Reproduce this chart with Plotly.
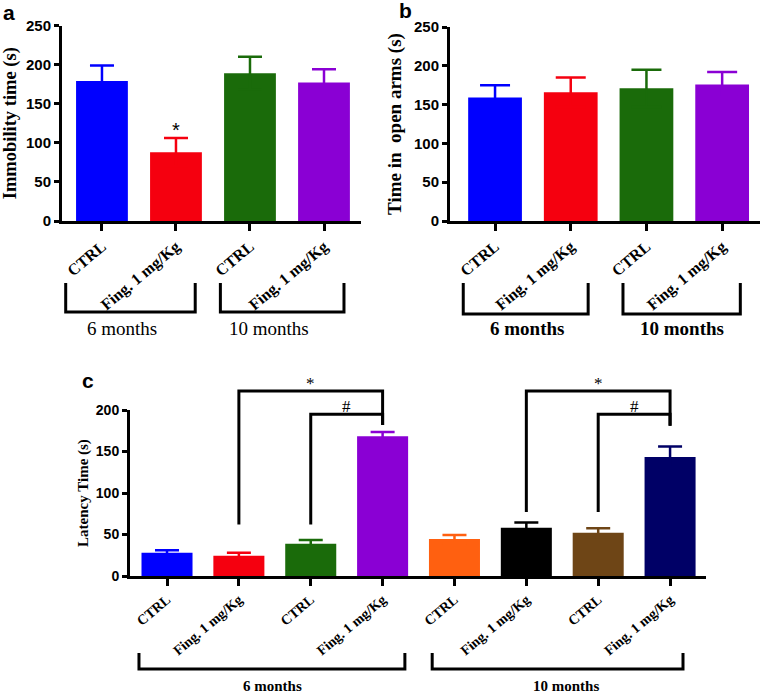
import plotly.graph_objects as go

W, H = 761, 695

# ---------------- data ----------------
a_labels = ["CTRL", "Fing. 1 mg/Kg", "CTRL", "Fing. 1 mg/Kg"]
a_values = [179, 88, 189, 177]
a_errors = [20, 18, 21, 17]
a_colors = ["#0000FF", "#F5000F", "#1A6B0A", "#8A00D4"]
a_groups = ["6 months", "10 months"]
a_sig = [(1, "*")]

b_labels = ["CTRL", "Fing. 1 mg/Kg", "CTRL", "Fing. 1 mg/Kg"]
b_values = [159, 166, 171, 176]
b_errors = [16, 19, 24, 16]
b_colors = ["#0000FF", "#F5000F", "#1A6B0A", "#8A00D4"]
b_groups = ["6 months", "10 months"]

c_labels = ["CTRL", "Fing. 1 mg/Kg", "CTRL", "Fing. 1 mg/Kg",
            "CTRL", "Fing. 1 mg/Kg", "CTRL", "Fing. 1 mg/Kg"]
c_values = [28, 24.5, 39, 168.5, 44.5, 58, 52, 143.5]
c_errors = [3, 3.5, 4.5, 5, 5, 6.5, 5.5, 12.5]
c_colors = ["#0000FF", "#F5000F", "#1A6B0A", "#8A00D4",
            "#FF6010", "#000000", "#6E4516", "#000066"]
c_groups = ["6 months", "10 months"]
# (left bar, right bar, bracket level, left leg bottom, right leg bottom, symbol)
c_comparisons = [(1, 3, 223, 62, 182, "*"), (2, 3, 195, 62, 182, "#"),
                 (5, 7, 223, 77, 181, "*"), (6, 7, 195, 77, 181, "#")]

SERIF = "Liberation Serif, Times New Roman, serif"
SANS = "Liberation Sans, Arial, sans-serif"


def py(p):
    """pixel row -> paper y"""
    return 1 - p / H


def px(p):
    return p / W


fig = go.Figure()


def add_bars(values, errors, colors, xa, ya, capw, bw):
    for i, (v, e, c) in enumerate(zip(values, errors, colors)):
        fig.add_trace(go.Bar(
            x=[i], y=[v], width=bw, marker=dict(color=c, line=dict(width=0)),
            error_y=dict(type="data", array=[e], symmetric=True,
                         color=c, thickness=2.5, width=capw),
            xaxis=xa, yaxis=ya, showlegend=False, hoverinfo="skip"))


add_bars(a_values, a_errors, a_colors, "x", "y", 12, 0.70)
add_bars(b_values, b_errors, b_colors, "x2", "y2", 15, 0.71)
add_bars(c_values, c_errors, c_colors, "x3", "y3", 12, 0.71)

# significance brackets for panel c on an invisible overlay axis (taller)
for (l, r, lvl, lb, rb, sym) in c_comparisons:
    fig.add_trace(go.Scatter(
        x=[l, l, r, r], y=[lb, lvl, lvl, rb], mode="lines",
        line=dict(color="black", width=3), xaxis="x4", yaxis="y4",
        showlegend=False, hoverinfo="skip"))

common_x = dict(showline=True, linewidth=3, linecolor="black", ticks="outside",
                ticklen=7, tickwidth=3, tickcolor="black", showgrid=False,
                zeroline=False, tickangle=-40, automargin=False)
common_y = dict(showline=True, linewidth=3, linecolor="black", ticks="outside",
                ticklen=5, tickwidth=3, tickcolor="black", showgrid=False,
                zeroline=False, automargin=False)

c_dom_lo, c_dom_hi = py(576), py(410)
c_top4 = 240
y4_hi = c_dom_lo + (c_dom_hi - c_dom_lo) * c_top4 / 200

fig.update_layout(
    template="none",
    width=W, height=H, margin=dict(l=0, r=0, t=0, b=0, autoexpand=False),
    paper_bgcolor="white", plot_bgcolor="rgba(0,0,0,0)", barmode="overlay",
    xaxis=dict(common_x, domain=[px(62), px(361)], range=[-0.54, 3.5],
               tickvals=list(range(len(a_labels))), ticktext=a_labels,
               tickfont=dict(family=SERIF, size=16, color="black", weight="bold"),
               anchor="y"),
    yaxis=dict(common_y, domain=[py(221), py(25.5)], range=[0, 250],
               tickvals=[0, 50, 100, 150, 200, 250],
               tickfont=dict(family=SANS, size=15, color="black", weight="bold"),
               title=dict(text="Immobility time (s)", standoff=8,
                          font=dict(family=SERIF, size=18.5, color="black", weight="bold")),
               anchor="x"),
    xaxis2=dict(common_x, domain=[px(450), px(760)], range=[-0.595, 3.5],
                tickvals=list(range(len(b_labels))), ticktext=b_labels,
                tickfont=dict(family=SERIF, size=16, color="black", weight="bold"),
                anchor="y2"),
    yaxis2=dict(common_y, domain=[py(221), py(27)], range=[0, 250],
                tickvals=[0, 50, 100, 150, 200, 250],
                tickfont=dict(family=SANS, size=15, color="black", weight="bold"),
                title=dict(text="Time in  open arms (s)", standoff=8,
                           font=dict(family=SERIF, size=19, color="black", weight="bold")),
                anchor="x2"),
    xaxis3=dict(common_x, domain=[px(130), px(706)], range=[-0.515, 7.5],
                tickvals=list(range(len(c_labels))), ticktext=c_labels,
                tickfont=dict(family=SERIF, size=14, color="black", weight="bold"),
                anchor="y3"),
    yaxis3=dict(common_y, domain=[c_dom_lo, c_dom_hi], range=[0, 200],
                tickvals=[0, 50, 100, 150, 200],
                tickfont=dict(family=SANS, size=14, color="black", weight="bold"),
                title=dict(text="Latency Time (s)", standoff=4,
                           font=dict(family=SERIF, size=15, color="black", weight="bold")),
                anchor="x3"),
    xaxis4=dict(domain=[px(130), px(706)], range=[-0.515, 7.5], visible=False,
                anchor="y4", fixedrange=True, automargin=False),
    yaxis4=dict(domain=[c_dom_lo, y4_hi], range=[0, c_top4], visible=False,
                anchor="x4", fixedrange=True, automargin=False),
)

annotations = []
shapes = []

# panel letters
for txt, x, y in [("a", 9, 13), ("b", 405, 10), ("c", 88, 380)]:
    annotations.append(dict(text=txt, x=px(x), y=py(y), xref="paper", yref="paper",
                            showarrow=False, xanchor="center", yanchor="middle",
                            font=dict(family=SANS, size=21, color="black", weight="bold")))

# significance marks in panel a
for idx, sym in a_sig:
    annotations.append(dict(text=sym, x=idx, y=a_values[idx] + a_errors[idx],
                            xref="x", yref="y", showarrow=False, yanchor="bottom",
                            yshift=-5, font=dict(family=SANS, size=20, color="black")))

# significance symbols in panel c
for (l, r, lvl, lb, rb, sym) in c_comparisons:
    annotations.append(dict(text=sym, x=(l + r) / 2, y=lvl, xref="x4", yref="y4",
                            showarrow=False, yanchor="bottom", yshift=-4,
                            font=dict(family=SERIF, size=17, color="black")))


def group_brackets(xref, spans, top, bot, labels, label_x, label_y, size, weight):
    for (x0, x1), lab, lx in zip(spans, labels, label_x):
        shapes.append(dict(type="path", xref=xref, yref="paper",
                           path=f"M {x0},{py(top)} L {x0},{py(bot)} L {x1},{py(bot)} L {x1},{py(top)}",
                           line=dict(color="black", width=3)))
        annotations.append(dict(text=lab, x=px(lx), y=py(label_y), xref="paper", yref="paper",
                                showarrow=False, xanchor="center", yanchor="middle",
                                font=dict(family=SERIF, size=size, color="black", weight=weight)))


group_brackets("x", [(0 - 0.49, 1 + 0.26), (2 - 0.40, 3 + 0.27)], 283, 312,
               a_groups, [122, 269], 328, 19, "normal")
group_brackets("x2", [(0 - 0.42, 1 + 0.23), (2 - 0.31, 3 + 0.24)], 283, 314,
               b_groups, [527, 682], 328, 19, "bold")
group_brackets("x3", [(0 - 0.39, 3 + 0.31), (4 - 0.31, 7 + 0.18)], 653, 669,
               c_groups, [272, 566], 686, 15, "bold")

fig.update_layout(annotations=annotations, shapes=shapes)

fig.write_html("out.html", config={"displayModeBar": False},
               post_script="document.body.style.margin='0';")
